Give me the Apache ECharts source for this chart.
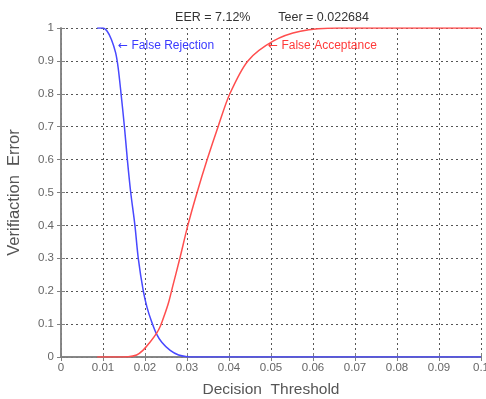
<!DOCTYPE html>
<html>
<head>
<meta charset="utf-8">
<script src="https://cdn.jsdelivr.net/npm/echarts@6/dist/echarts.min.js"></script>
<style>
  html, body { margin: 0; padding: 0; background: #fff; }
  #chart { width: 486px; height: 399px; }
</style>
</head>
<body>
<div id="chart"></div>
<script>
// threshold / error pairs
const frThreshold = [0.0086, 0.01, 0.011, 0.012, 0.013, 0.0136, 0.0143, 0.0151, 0.0158, 0.0166, 0.0176, 0.0184, 0.0196, 0.0205, 0.0215, 0.0227, 0.024, 0.026, 0.028, 0.03, 0.032, 0.1];
const frError = [1, 1, 0.99, 0.965, 0.925, 0.88, 0.8, 0.7, 0.6, 0.5, 0.4, 0.3, 0.2, 0.15, 0.11, 0.071, 0.045, 0.02, 0.006, 0.001, 0, 0];
const faThreshold = [0.0086, 0.016, 0.018, 0.0195, 0.021, 0.0227, 0.0237, 0.0247, 0.0256, 0.0265, 0.0283, 0.0302, 0.0324, 0.0348, 0.0374, 0.0402, 0.0445, 0.0505, 0.057, 0.066, 0.1];
const faError = [0, 0.001, 0.006, 0.02, 0.042, 0.071, 0.095, 0.13, 0.165, 0.21, 0.3, 0.4, 0.5, 0.6, 0.7, 0.8, 0.9, 0.96, 0.99, 1, 1];
const xTicks = [0, 0.01, 0.02, 0.03, 0.04, 0.05, 0.06, 0.07, 0.08, 0.09, 0.1];
const yTicks = [0, 0.1, 0.2, 0.3, 0.4, 0.5, 0.6, 0.7, 0.8, 0.9, 1];

const chart = echarts.init(document.getElementById("chart"));
const font = "Liberation Sans, Arial, sans-serif";
const boxColor = "#808080";
const gridLine = { show: true, lineStyle: { color: "#555", type: [2, 3], width: 1 } };

const fmt = (v) => String(parseFloat(v.toFixed(2)));

// text note anchored at a data point, arrow pointing back at the curve
const note = (x, y, text, color) => ({
  symbol: "circle",
  symbolSize: 0,
  data: [{ coord: [x, y] }],
  label: {
    show: true,
    position: "right",
    distance: 0,
    formatter: "{a|←} " + text,
    fontFamily: font,
    fontSize: 12,
    color,
    rich: { a: { fontFamily: "DejaVu Sans", fontSize: 12, color } },
  },
});

const option = {
  animation: false,
  title: {
    text: "EER = 7.12%        Teer = 0.022684",
    left: 267,
    top: 6,
    textAlign: "center",
    textStyle: { fontFamily: font, fontSize: 12.5, fontWeight: "normal", color: "#333" },
  },
  grid: { left: 61, right: 5, top: 28, bottom: 42, outerBoundsMode: "none" },
  xAxis: [
    {
      type: "value",
      min: 0,
      max: 0.1,
      interval: 0.01,
      name: "Decision  Threshold",
      nameLocation: "middle",
      nameGap: 25,
      nameTextStyle: { fontFamily: font, fontSize: 15.5, color: "#555" },
      axisLine: { lineStyle: { color: boxColor, width: 1.5 } },
      axisTick: { inside: true, length: 4, lineStyle: { color: boxColor } },
      axisLabel: { fontFamily: font, fontSize: 11.5, color: "#666", margin: 5, formatter: fmt },
      splitLine: gridLine,
    },
    {
      type: "value",
      position: "top",
      min: 0,
      max: 0.1,
      interval: 0.01,
      axisLine: { show: true, lineStyle: { color: boxColor, width: 1.5 } },
      axisTick: { inside: true, length: 4, lineStyle: { color: boxColor } },
      axisLabel: { show: false },
      splitLine: { show: false },
    },
  ],
  yAxis: [
    {
      type: "value",
      min: 0,
      max: 1,
      interval: 0.1,
      name: "Verifiaction  Error",
      nameLocation: "middle",
      nameGap: 38,
      nameTextStyle: { fontFamily: font, fontSize: 16.5, color: "#555" },
      axisLine: { show: true, lineStyle: { color: boxColor, width: 1.5 } },
      axisTick: { show: true, inside: true, length: 4, lineStyle: { color: boxColor } },
      axisLabel: { fontFamily: font, fontSize: 11.5, color: "#666", margin: 7, formatter: fmt },
      splitLine: gridLine,
    },
    {
      type: "value",
      position: "right",
      min: 0,
      max: 1,
      interval: 0.1,
      axisLine: { show: true, lineStyle: { color: boxColor, width: 1.5 } },
      axisTick: { show: true, inside: true, length: 4, lineStyle: { color: boxColor } },
      axisLabel: { show: false },
      splitLine: { show: false },
    },
  ],
  series: [
    {
      name: "False Rejection",
      type: "line",
      data: frThreshold.map((t, i) => [t, frError[i]]),
      smooth: 0.3,
      showSymbol: false,
      lineStyle: { color: "#4848ff", width: 1.5 },
      z: 3,
      markPoint: note(0.0136, 0.945, "False Rejection", "#3a3aff"),
    },
    {
      name: "False Acceptance",
      type: "line",
      data: faThreshold.map((t, i) => [t, faError[i]]),
      smooth: 0.3,
      showSymbol: false,
      lineStyle: { color: "#ff4e4e", width: 1.5 },
      z: 3,
      markPoint: note(0.0493, 0.945, "False Acceptance", "#ff3a3a"),
    },
  ],
};

chart.setOption(option);
</script>
</body>
</html>
